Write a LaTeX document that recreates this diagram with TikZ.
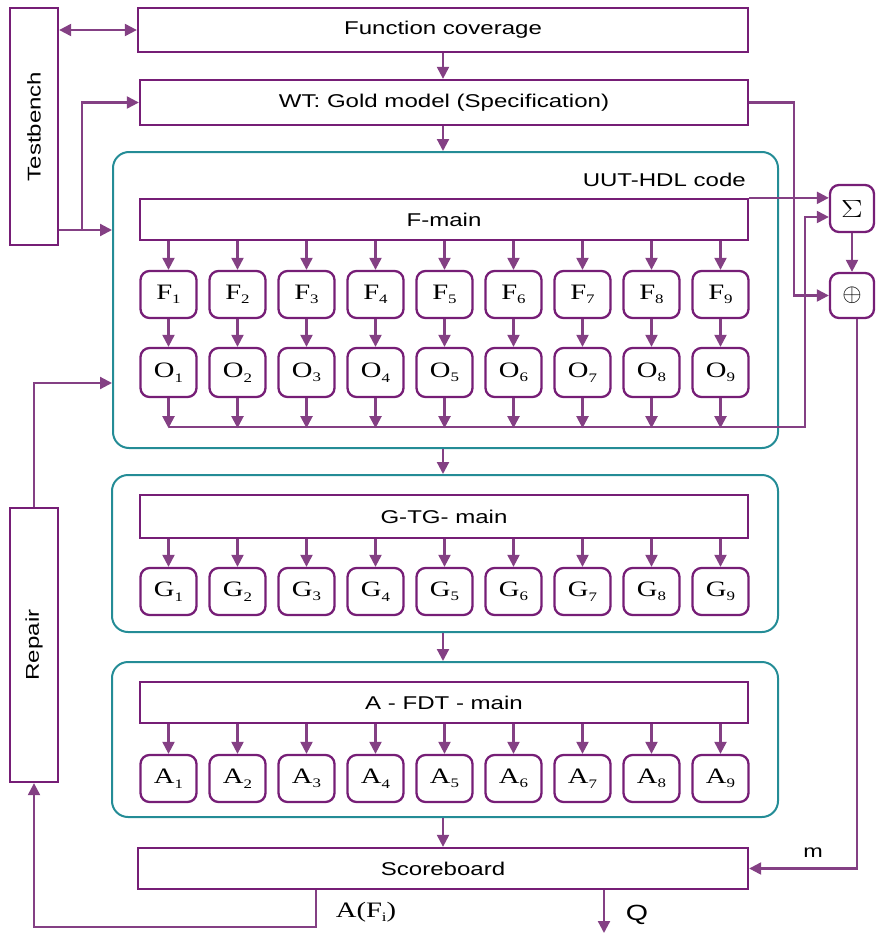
\documentclass[tikz,border=0pt]{standalone}
\usepackage{fontspec}
\usepackage{graphicx}
\setmainfont{Liberation Serif}
\newfontfamily\arsans{Liberation Sans}
\usetikzlibrary{arrows.meta}
\definecolor{pur}{RGB}{118,30,118}
\definecolor{arc}{RGB}{132,64,132}
\definecolor{tl}{RGB}{36,140,150}
\newcommand\stx[1]{\scalebox{1.3}[1]{#1}}
\newcommand\sanslbl[1]{\stx{\arsans\fontsize{18.5}{18.5}\selectfont #1}}
\newcommand\idx[2]{\stx{\fontsize{22}{22}\selectfont #1\raisebox{-4.5pt}{\fontsize{13}{13}\selectfont #2}}}
\begin{document}
\begin{tikzpicture}[x=1pt,y=-1pt,
 mainbox/.style={draw=pur,line width=2.3pt,minimum width=608pt,inner sep=0pt},
 sidebox/.style={draw=pur,line width=2.3pt,minimum width=48pt,inner sep=0pt},
 sbox/.style={draw=pur,line width=2.3pt,rounded corners=9pt,minimum width=56pt,minimum height=47pt,inner sep=0pt},
 opbox/.style={draw=pur,line width=2.3pt,rounded corners=9pt,minimum width=44pt,inner sep=0pt},
 blk/.style={draw=tl,line width=2pt,rounded corners=16pt,inner sep=0pt},
 arr/.style={draw=arc,line width=2.2pt,-{Triangle[length=12pt,width=12pt]}},
 arrtwo/.style={draw=arc,line width=2.2pt,{Triangle[length=12pt,width=12pt]}-{Triangle[length=12pt,width=12pt]}},
 ln/.style={draw=arc,line width=2.2pt}]
\useasboundingbox (0,0) rectangle (877,937);

% teal blocks
\node[blk,minimum width=665pt,minimum height=296pt] (uut) at (445.5,300) {};
\node[blk,minimum width=666pt,minimum height=157pt] (gblk) at (445,553.5) {};
\node[blk,minimum width=666pt,minimum height=155pt] (ablk) at (445,739.5) {};

% main bars
\node[mainbox,minimum width=610pt,minimum height=44pt] (fc) at (443,30) {\sanslbl{Function coverage}};
\node[mainbox,minimum height=45pt] (wt) at (444,102.5) {\sanslbl{WT: Gold model (Specification)}};
\node[mainbox,minimum height=41pt] (fmain) at (444,219.5) {\sanslbl{F-main}};
\node[mainbox,minimum height=43pt] (gmain) at (444,516.5) {\sanslbl{G-TG- main}};
\node[mainbox,minimum height=41pt] (amain) at (444,702.5) {\sanslbl{A - FDT - main}};
\node[mainbox,minimum width=610pt,minimum height=41pt] (sb) at (443,868.5) {\sanslbl{Scoreboard}};
\node[anchor=east,inner sep=0pt] (uutlbl) at (746,180) {\sanslbl{UUT-HDL code}};

% side boxes
\node[sidebox,minimum height=237pt] (tb) at (34,126.5) {\rotatebox{90}{\sanslbl{Testbench}}};
\node[sidebox,minimum height=274pt] (repair) at (34,645) {\rotatebox{90}{\sanslbl{Repair}}};

% sum and xor
\node[opbox,minimum height=47pt] (sig) at (852,208.5) {\stx{\fontsize{23}{23}\selectfont $\Sigma$}};
\node[opbox,minimum height=45pt] (plus) at (852,295.5) {{\fontsize{24}{24}\selectfont $\oplus$}};

% small boxes
\foreach \k in {1,...,9} {
  \pgfmathsetmacro\xx{168.5+69*(\k-1)}
  \node[sbox] (F\k) at (\xx,294.5) {\idx{F}{\k}};
  \node[sbox,minimum height=49pt] (O\k) at (\xx,372.5) {\idx{O}{\k}};
  \node[sbox] (G\k) at (\xx,591.5) {\idx{G}{\k}};
  \node[sbox] (A\k) at (\xx,778.5) {\idx{A}{\k}};
  \draw[arr] (fmain.south -| F\k.north) -- (F\k.north);
  \draw[arr] (F\k.south) -- (O\k.north);
  \draw[arr] (O\k.south) -- ++(0,30);
  \draw[arr] (gmain.south -| G\k.north) -- (G\k.north);
  \draw[arr] (amain.south -| A\k.north) -- (A\k.north);
}

% bus of outputs
\coordinate (busL) at (168.5,427);
\coordinate (busR) at (805,427);
\draw[arr] (busL) -- (busR) |- ([yshift=-8.5pt]sig.west);

% vertical flow
\draw[arr] (fc.south) -- (fc.south |- wt.north);
\draw[arr] (fc.south |- wt.south) -- (fc.south |- uut.north);
\draw[arr] (fc.south |- uut.south) -- (fc.south |- gblk.north);
\draw[arr] (fc.south |- gblk.south) -- (fc.south |- ablk.north);
\draw[arr] (fc.south |- ablk.south) -- (fc.south |- sb.north);

% testbench
\draw[arrtwo] (tb.east |- fc.west) -- (fc.west);
\coordinate (br) at (82,230);
\draw[arr] (tb.east |- br) -- (uut.west |- br);
\draw[arr] (br) |- (wt.west);

% to sum / xor
\draw[arr] (fmain.north east) -- (fmain.north east -| sig.west);
\draw[arr] (wt.east) -- ++(45,0) |- (plus.west);
\draw[arr] (sig.south) -- (plus.north);
\draw[arr] ([xshift=5pt]plus.south) |- (sb.east);
\node[inner sep=0pt] (mlbl) at (813,853) {\stx{\arsans\fontsize{18}{18}\selectfont m}};

% outputs of scoreboard
\coordinate (qend) at (604,933);
\draw[arr] (sb.south -| qend) -- (qend);
\node[inner sep=0pt] (qlbl) at (637,915) {\stx{\arsans\fontsize{22}{22}\selectfont Q}};
\coordinate (afc) at (316,927);
\draw[arr] (sb.south -| afc) -- (afc) -| (repair.south);
\node[inner sep=0pt] (aflbl) at (366,912) {\stx{\fontsize{22}{22}\selectfont A(F\raisebox{-4.5pt}{\fontsize{13}{13}\selectfont i})}};

% repair loop
\coordinate (rp) at (34,383);
\draw[arr] (repair.north) |- (uut.west |- rp);
\end{tikzpicture}
\end{document}
